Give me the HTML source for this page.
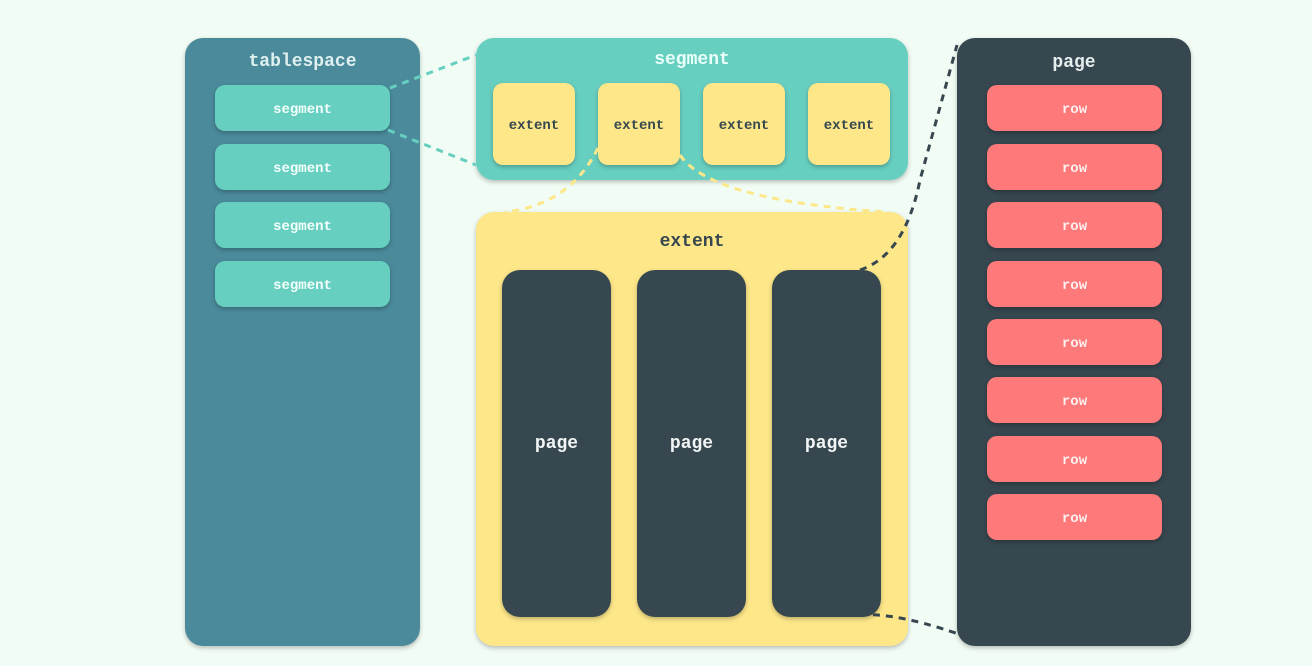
<!DOCTYPE html>
<html><head><style>
body{margin:0;width:1312px;height:666px;background:#f1fcf4;position:relative;overflow:hidden;font-family:"Liberation Mono",monospace;font-weight:bold}
.b{position:absolute;border-radius:18px;box-shadow:0 2px 5px rgba(0,0,0,.25)}
.s{position:absolute;border-radius:10px;display:flex;align-items:center;justify-content:center;font-size:14px;box-shadow:0 2px 4px rgba(0,0,0,.25);box-sizing:border-box;padding-top:4px}
.t{position:absolute;width:100%;text-align:center;font-size:18px}
</style></head><body>
<div class="b" style="left:185px;top:38px;width:235px;height:608px;background:#4a8a9b"><div class="t" style="top:14px;color:#dff0ef">tablespace</div></div>
<div class="s" style="left:215px;top:85px;width:175px;height:46px;background:#67cfc0;color:#f4fffc">segment</div>
<div class="s" style="left:215px;top:144px;width:175px;height:46px;background:#67cfc0;color:#f4fffc">segment</div>
<div class="s" style="left:215px;top:202px;width:175px;height:46px;background:#67cfc0;color:#f4fffc">segment</div>
<div class="s" style="left:215px;top:261px;width:175px;height:46px;background:#67cfc0;color:#f4fffc">segment</div>

<div class="b" style="left:476px;top:38px;width:432px;height:142px;background:#67cfc0"><div class="t" style="top:12px;color:#eafffa">segment</div></div>
<div class="s" style="left:493px;top:83px;width:82px;height:82px;background:#fde789;color:#36474f">extent</div>
<div class="s" style="left:598px;top:83px;width:82px;height:82px;background:#fde789;color:#36474f">extent</div>
<div class="s" style="left:703px;top:83px;width:82px;height:82px;background:#fde789;color:#36474f">extent</div>
<div class="s" style="left:808px;top:83px;width:82px;height:82px;background:#fde789;color:#36474f">extent</div>

<div class="b" style="left:476px;top:212px;width:432px;height:434px;background:#fde789"><div class="t" style="top:20px;color:#36474f">extent</div></div>
<div class="s" style="left:502px;top:270px;width:109px;height:347px;border-radius:18px;background:#36474f;color:#f1f5f5;font-size:18px;padding-top:0">page</div>
<div class="s" style="left:637px;top:270px;width:109px;height:347px;border-radius:18px;background:#36474f;color:#f1f5f5;font-size:18px;padding-top:0">page</div>
<div class="s" style="left:772px;top:270px;width:109px;height:347px;border-radius:18px;background:#36474f;color:#f1f5f5;font-size:18px;padding-top:0">page</div>

<div class="b" style="left:957px;top:38px;width:234px;height:608px;background:#36474f"><div class="t" style="top:15px;color:#e6eeee">page</div></div>
<div class="s" style="left:987px;top:85px;width:175px;height:46px;background:#fe7a7a;color:#fff0f0">row</div>
<div class="s" style="left:987px;top:144px;width:175px;height:46px;background:#fe7a7a;color:#fff0f0">row</div>
<div class="s" style="left:987px;top:202px;width:175px;height:46px;background:#fe7a7a;color:#fff0f0">row</div>
<div class="s" style="left:987px;top:261px;width:175px;height:46px;background:#fe7a7a;color:#fff0f0">row</div>
<div class="s" style="left:987px;top:319px;width:175px;height:46px;background:#fe7a7a;color:#fff0f0">row</div>
<div class="s" style="left:987px;top:377px;width:175px;height:46px;background:#fe7a7a;color:#fff0f0">row</div>
<div class="s" style="left:987px;top:436px;width:175px;height:46px;background:#fe7a7a;color:#fff0f0">row</div>
<div class="s" style="left:987px;top:494px;width:175px;height:46px;background:#fe7a7a;color:#fff0f0">row</div>

<svg width="1312" height="666" style="position:absolute;left:0;top:0" fill="none" stroke-width="3" stroke-dasharray="7 6">
<path d="M390 88 L476 55" stroke="#67cfc0"/>
<path d="M388 130 L476 165" stroke="#67cfc0"/>
<path d="M598 148 Q570 205 505 212" stroke="#fde789"/>
<path d="M680 155 Q710 200 885 212" stroke="#fde789"/>
<path d="M860 270 Q905 255 920 180 L957 45" stroke="#36474f"/>
<path d="M860 615 Q900 612 975 640" stroke="#36474f"/>
</svg>
</body></html>
